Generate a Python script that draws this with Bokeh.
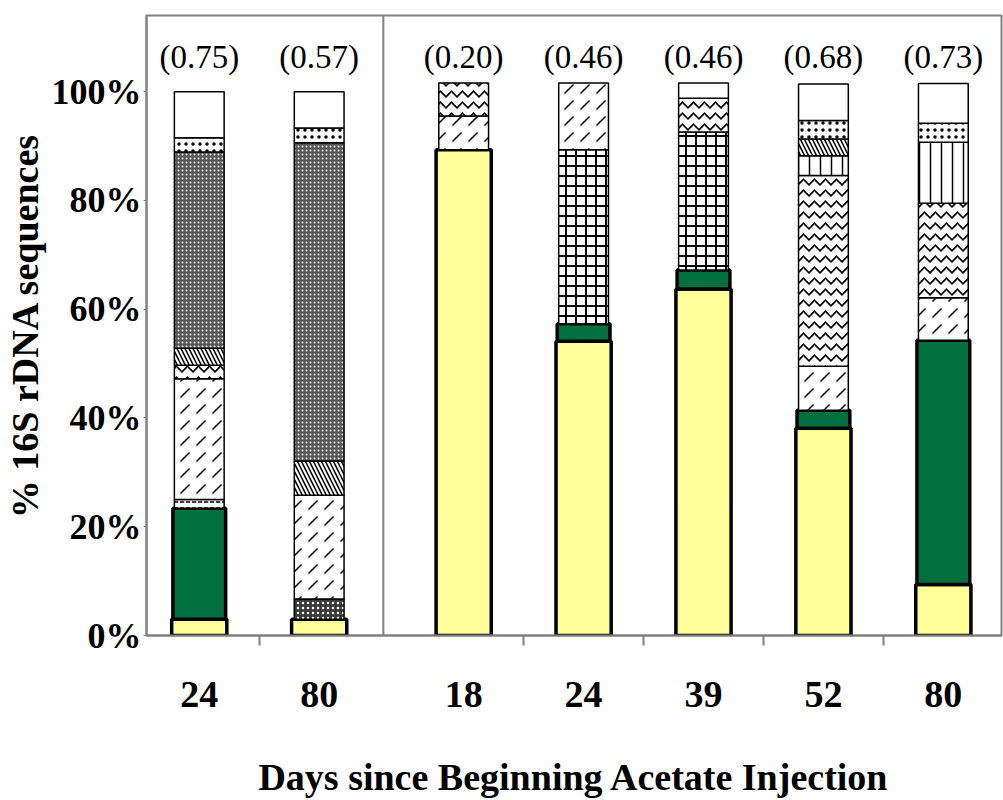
from bokeh.plotting import figure
from bokeh.models import Range1d, FixedTicker, PrintfTickFormatter, Span, ColumnDataSource
from bokeh.core.properties import value
from bokeh.embed import file_html
from bokeh.resources import INLINE

# ---------------- data ----------------
panels = ["left", "left", "right", "right", "right", "right", "right"]
days = ["24", "80", "18", "24", "39", "52", "80"]
diversity = [0.75, 0.57, 0.20, 0.46, 0.46, 0.68, 0.73]

# segment heights (% of 16S rDNA sequences), bottom -> top
yellow   = [3.0, 3.0, 89.3, 54.1, 63.7, 38.1, 9.4]
green    = [20.4, 0.0, 0.0, 3.2, 3.5, 3.3, 44.9]
darkcross= [0.0, 3.7, 0.0, 0.0, 0.0, 0.0, 0.0]
dashed   = [1.6, 0.0, 0.0, 0.0, 0.0, 0.0, 0.0]
grid     = [0.0, 0.0, 0.0, 32.0, 25.4, 0.0, 0.0]
chevron  = [22.2, 19.1, 6.2, 12.3, 0.0, 8.1, 7.8]
wavy     = [2.5, 0.0, 6.1, 0.0, 6.2, 35.1, 17.4]
vertical = [0.0, 0.0, 0.0, 0.0, 0.0, 3.6, 11.2]
diagonal = [3.1, 6.3, 0.0, 0.0, 0.0, 3.1, 0.0]
checker  = [36.1, 58.5, 0.0, 0.0, 0.0, 0.0, 0.0]
dots     = [2.6, 2.7, 0.0, 0.0, 0.0, 3.4, 3.5]
white    = [8.5, 6.7, 0.0, 0.0, 2.8, 6.7, 7.3]

y_ticks = [0, 20, 40, 60, 80, 100]

series = [
    ("yellow", yellow), ("green", green), ("darkcross", darkcross), ("dashed", dashed),
    ("grid", grid), ("chevron", chevron), ("wavy", wavy), ("vertical", vertical),
    ("diagonal", diagonal), ("checker", checker), ("dots", dots), ("white", white),
]

# ---------------- styles ----------------
thin = dict(line_color="black", line_width=1.5, fill_color="white", hatch_color="black")
pw = 0.415
styles = {
    "yellow":   dict(width=0.46, fill_color="#FFFF99", line_color="black", line_width=3.5),
    "green":    dict(width=0.44, fill_color="#02703E", line_color="black", line_width=3.5),
    "darkcross":dict(width=pw, **{**thin, "fill_color": "#3a3a3a", "hatch_color": "white"},
                     hatch_pattern=".", hatch_scale=5, hatch_weight=1),
    "dashed":   dict(width=pw, **thin, hatch_pattern='"', hatch_scale=6, hatch_weight=1.5),
    "grid":     dict(width=pw, **thin, hatch_pattern="+", hatch_scale=10, hatch_weight=2),
    "chevron":  dict(width=pw, **thin, hatch_pattern=",", hatch_scale=16, hatch_weight=1.5),
    "wavy":     dict(width=pw, **thin, hatch_pattern="v", hatch_scale=11, hatch_weight=1.6),
    "vertical": dict(width=pw, **thin, hatch_pattern="|", hatch_scale=11, hatch_weight=1.5),
    "diagonal": dict(width=pw, **thin, hatch_pattern="\\", hatch_scale=8, hatch_weight=1.5),
    "checker":  dict(width=pw, **{**thin, "fill_color": "#555555", "hatch_color": "white"},
                     hatch_pattern=".", hatch_scale=4, hatch_weight=1),
    "dots":     dict(width=pw, **thin, hatch_pattern=".", hatch_scale=7, hatch_weight=1),
    "white":    dict(width=pw, **thin),
}

# ---------------- positions (layout) ----------------
n_left = panels.count("left")
n_right = panels.count("right")
left_pos = [0.44 + i for i in range(n_left)]
right_pos = [2.645 + i for i in range(n_right)]
xpos = left_pos + right_pos
between = [0.94 + i for i in range(n_left - 1)] + [3.145 + i for i in range(n_right - 1)]
divider = 1.975

p = figure(width=1003, height=800, output_backend="svg", toolbar_location=None,
           x_range=Range1d(0, 7.13), y_range=Range1d(0, 114),
           min_border_left=142, min_border_right=2, min_border_top=15, min_border_bottom=157)
p.xgrid.visible = False
p.ygrid.visible = False
p.outline_line_color = "#808080"
p.outline_line_width = 2
p.background_fill_color = "white"
p.border_fill_color = "white"

# stacked bars
bottoms = [0.0] * len(xpos)
for name, vals in series:
    xs, bs, ts = [], [], []
    for i, v in enumerate(vals):
        if v > 0:
            xs.append(xpos[i]); bs.append(bottoms[i]); ts.append(bottoms[i] + v)
        bottoms[i] += v
    if not xs:
        continue
    src = ColumnDataSource(dict(x=xs, bottom=bs, top=ts))
    p.vbar(x="x", bottom="bottom", top="top", source=src, **styles[name])

# diversity index labels
lab = ColumnDataSource(dict(x=xpos, y=[106.4] * len(xpos),
                            t=["(%.2f)" % d for d in diversity]))
p.text(x="x", y="y", text="t", source=lab, text_align="center", text_baseline="middle",
       text_font=value("Liberation Serif"), text_font_size="33px", text_color="black")

# panel divider
p.add_layout(Span(location=divider, dimension="height", line_color="#808080", line_width=2))

# x axis
xa = p.xaxis[0]
xa.ticker = FixedTicker(ticks=xpos, minor_ticks=between)
xa.major_label_overrides = {x: d for x, d in zip(xpos, days)}
xa.major_tick_line_color = None
xa.minor_tick_line_color = "#808080"
xa.minor_tick_line_width = 2
xa.minor_tick_out = 10
xa.minor_tick_in = 0
xa.axis_line_color = "#808080"
xa.axis_line_width = 2
xa.major_label_standoff = 36
xa.major_label_text_font = "Liberation Serif"
xa.major_label_text_font_style = "bold"
xa.major_label_text_font_size = "38px"
xa.major_label_text_color = "black"
xa.axis_label = "Days since Beginning Acetate Injection"
xa.axis_label_text_font = "Liberation Serif"
xa.axis_label_text_font_style = "bold"
xa.axis_label_text_font_size = "38px"
xa.axis_label_text_color = "black"
xa.axis_label_standoff = 46

# y axis
ya = p.yaxis[0]
ya.ticker = FixedTicker(ticks=y_ticks)
ya.formatter = PrintfTickFormatter(format="%d%%")
ya.minor_tick_line_color = None
ya.major_tick_line_color = "#808080"
ya.major_tick_out = 3
ya.major_tick_in = 0
ya.axis_line_color = "#808080"
ya.axis_line_width = 2
ya.major_label_standoff = 2
ya.major_label_text_font = "Liberation Serif"
ya.major_label_text_font_style = "bold"
ya.major_label_text_font_size = "36px"
ya.major_label_text_color = "black"
ya.axis_label = "% 16S rDNA sequences"
ya.axis_label_text_font = "Liberation Serif"
ya.axis_label_text_font_style = "bold"
ya.axis_label_text_font_size = "38px"
ya.axis_label_text_color = "black"
ya.axis_label_standoff = 3

open("out.html", "w").write(file_html(p, INLINE))
